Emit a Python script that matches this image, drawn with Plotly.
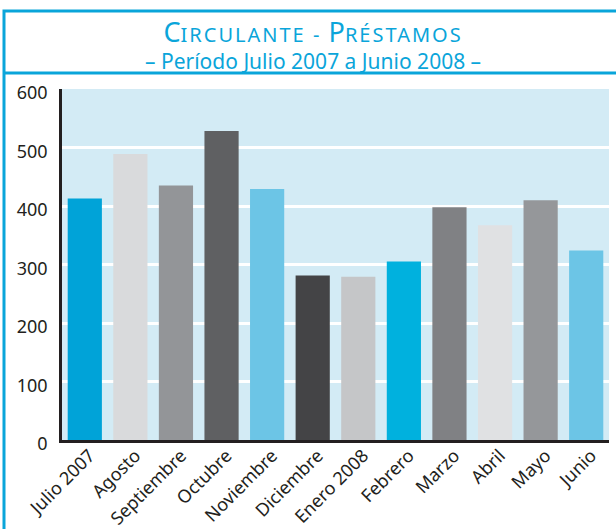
import plotly.graph_objects as go

months = ["Julio 2007", "Agosto", "Septiembre", "Octubre", "Noviembre", "Diciembre",
          "Enero 2008", "Febrero", "Marzo", "Abril", "Mayo", "Junio"]
values = [413, 489, 435, 528, 429, 281, 279, 305, 398, 367, 410, 324]
colors = ["#00a3d8", "#d9dadc", "#939598", "#5f6062", "#6cc5e6", "#444446",
          "#c5c6c8", "#00b1de", "#808184", "#e0e1e3", "#95979a", "#6cc5e6"]
y_ticks = [0, 100, 200, 300, 400, 500, 600]

BLUE = "#0aa5da"
W, H = 616, 529
L, R, T, B = 62, 609, 89, 440

def px(x):
    return (x - L) / (R - L)

def py(y):
    return (B - y) / (B - T)

fig = go.Figure(go.Bar(x=months, y=values, marker=dict(color=colors, line=dict(width=0)),
                       hoverinfo="x+y"))

title_text = ("<span style='font-size:27px'>C</span>"
              "<span style='font-size:20px;letter-spacing:2px'>IRCULANTE - </span>"
              "<span style='font-size:27px'>P</span>"
              "<span style='font-size:20px;letter-spacing:2px'>RÉSTAMOS</span>"
              "<br>– Período Julio 2007 a Junio 2008 –")

fig.update_layout(
    width=W, height=H,
    margin=dict(l=L, r=W - R, t=T, b=H - B, autoexpand=False),
    paper_bgcolor="white",
    plot_bgcolor="#d3ebf5",
    bargap=0.25,
    showlegend=False,
    font=dict(family="Noto Sans", color="#231f20"),
    xaxis=dict(showgrid=False, showline=True, linecolor="#231f20", linewidth=3,
               tickangle=-45, tickfont=dict(size=18, family="Noto Sans", color="#231f20"),
               ticks="", ticklabelstandoff=-5, ticklabelshift=5, automargin=False),
    yaxis=dict(range=[0, 600], tickvals=y_ticks, showgrid=True, gridcolor="white", gridwidth=2.5,
               showline=True, linecolor="#231f20", linewidth=2.5, zeroline=False,
               ticks="", tickfont=dict(size=18, family="Noto Sans", color="#231f20"),
               ticklabelstandoff=8, ticklabelshift=4, automargin=False),
    shapes=[
        dict(type="rect", xref="paper", yref="paper", x0=px(4), x1=px(640), y0=py(560), y1=py(11),
             line=dict(color=BLUE, width=3), fillcolor="rgba(0,0,0,0)", layer="below"),
        dict(type="line", xref="paper", yref="paper", x0=px(4), x1=px(640), y0=py(73), y1=py(73),
             line=dict(color=BLUE, width=3)),
    ],
    annotations=[
        dict(xref="paper", yref="paper", x=px(313), y=py(44), xanchor="center", yanchor="middle",
             showarrow=False, align="center", text=title_text,
             font=dict(size=21, color=BLUE, family="Noto Sans")),
    ],
)

fig.write_html("out.html", config={"displayModeBar": False},
               post_script="document.body.style.margin='0';document.body.style.overflow='hidden';")
